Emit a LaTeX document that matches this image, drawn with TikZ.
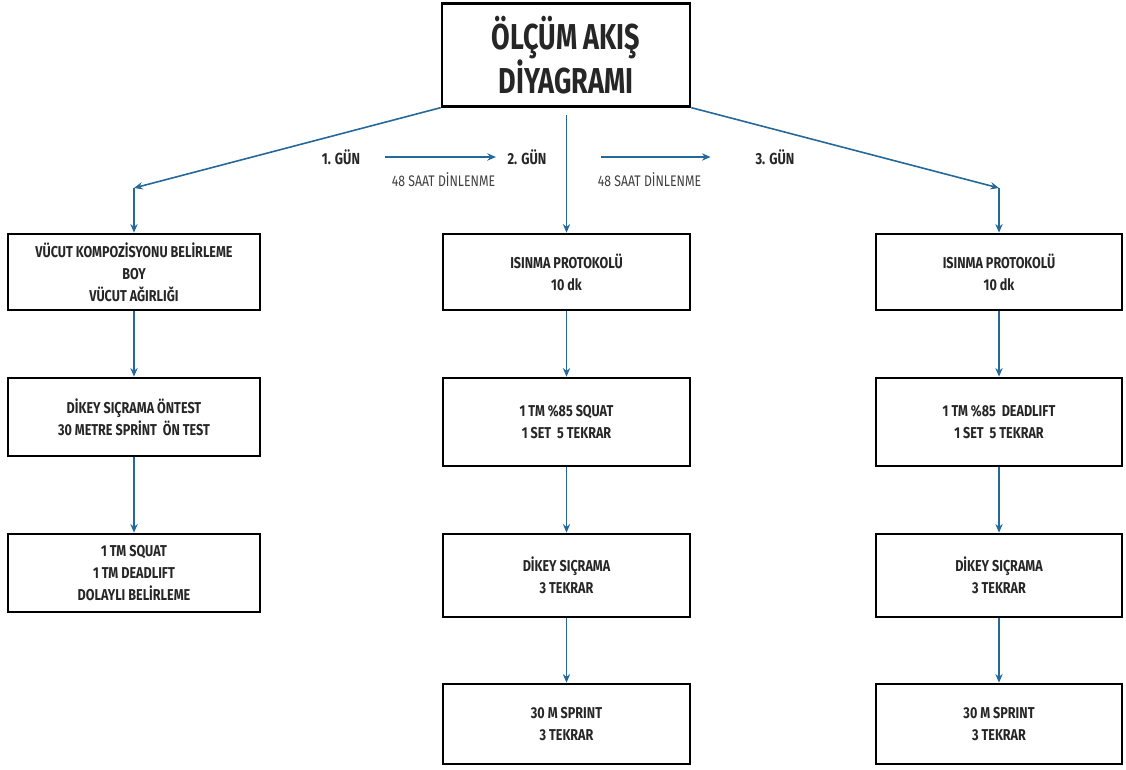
\documentclass[tikz,border=0pt]{standalone}
\usepackage{fontspec}
\setmainfont{Fira Sans}[FakeStretch=0.8]
\newfontfamily\titlefont{Fira Sans}[FakeStretch=0.75]
\usetikzlibrary{arrows.meta}
\definecolor{flowblue}{HTML}{24699A}
\definecolor{boxtext}{HTML}{262626}
\tikzset{every picture/.style={line width=0.75pt}}

\begin{document}
\begin{tikzpicture}[x=0.75pt,y=0.75pt,yscale=-1,xscale=1,
  box/.style={draw, line width=2pt, align=center, inner sep=0pt, text=boxtext,
    font=\fontsize{11.8}{16.5}\selectfont\bfseries},
  flow/.style={draw=flowblue, line width=1.2pt, -{Stealth[length=6.5pt,width=5.5pt]}},
  day/.style={text=boxtext, font=\fontsize{12}{13}\selectfont\bfseries},
  rest/.style={text=black!75, font=\fontsize{11.5}{13}\selectfont}]

\useasboundingbox (0,0) rectangle (1126,769);

% title
\node [box, minimum width=186pt, minimum height=77pt,
  font=\titlefont\fontsize{27}{29}\selectfont\bfseries] (title) at (566,55) {ÖLÇÜM AKIŞ\\DİYAGRAMI};

% days
\node [day] (g1) at (341,157) {1. GÜN};
\node [day] (g2) at (527,157) {2. GÜN};
\node [day] (g3) at (775,157) {3. GÜN};
\node [rest] (d1) at (443.5,180) {48 SAAT DİNLENME};
\node [rest] (d2) at (649.5,180) {48 SAAT DİNLENME};

\coordinate (lturn) at (134,188);
\coordinate (mtop) at (566.5,115);
\coordinate (rturn) at (999,188);

% 1. gun
\node [box, minimum width=189pt, minimum height=57pt] (v1) at (134,272) {VÜCUT KOMPOZİSYONU BELİRLEME\\BOY\\VÜCUT AĞIRLIĞI};
\node [box, minimum width=189pt, minimum height=58.5pt] (v2) at (134,417) {DİKEY SIÇRAMA ÖNTEST\\30 METRE SPRİNT\ \ ÖN TEST};
\node [box, minimum width=189pt, minimum height=58.5pt] (v3) at (134,573) {1 TM SQUAT\\1 TM DEADLIFT\\DOLAYLI BELİRLEME};

% 2. gun
\node [box, minimum width=185.25pt, minimum height=57pt] (m1) at (566.5,272) {ISINMA PROTOKOLÜ\\10 dk};
\node [box, minimum width=185.25pt, minimum height=66pt] (m2) at (566.5,422) {1 TM \%85 SQUAT\\1 SET\ \ 5 TEKRAR};
\node [box, minimum width=185.25pt, minimum height=62.25pt] (m3) at (566.5,575.5) {DİKEY SIÇRAMA\\3 TEKRAR};
\node [box, minimum width=185.25pt, minimum height=60pt] (m4) at (566.5,724) {30 M SPRINT\\3 TEKRAR};

% 3. gun
\node [box, minimum width=184.5pt, minimum height=57pt] (r1) at (999,272) {ISINMA PROTOKOLÜ\\10 dk};
\node [box, minimum width=184.5pt, minimum height=66pt] (r2) at (999,422) {1 TM \%85\ \ DEADLIFT\\1 SET\ \ 5 TEKRAR};
\node [box, minimum width=184.5pt, minimum height=62.25pt] (r3) at (999,575.5) {DİKEY SIÇRAMA\\3 TEKRAR};
\node [box, minimum width=184.5pt, minimum height=60pt] (r4) at (999,724) {30 M SPRINT\\3 TEKRAR};

% arrows
\draw [flow] (title.south west) -- (lturn);
\draw [flow] (title.south east) -- (rturn);
\draw [flow] ([xshift=15pt]g1.east) -- ([xshift=-5pt]g2.west);
\draw [flow] ([xshift=37.5pt]g2.east) -- ([xshift=-30pt]g3.west);

\draw [flow] (lturn) -- (v1.north);
\draw [flow] (v1) -- (v2);
\draw [flow] (v2) -- (v3);

\draw [flow] (mtop) -- (m1.north);
\draw [flow] (m1) -- (m2);
\draw [flow] (m2) -- (m3);
\draw [flow] (m3) -- (m4);

\draw [flow] (rturn) -- (r1.north);
\draw [flow] (r1) -- (r2);
\draw [flow] (r2) -- (r3);
\draw [flow] (r3) -- (r4);

\end{tikzpicture}
\end{document}
